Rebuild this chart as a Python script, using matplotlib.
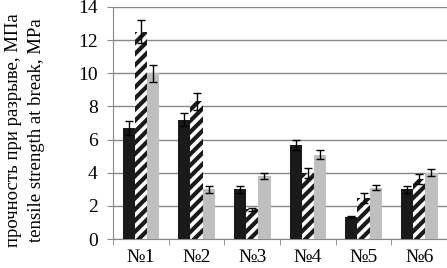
import matplotlib.pyplot as plt
import numpy as np

plt.rcParams['font.family'] = ['Liberation Serif', 'DejaVu Serif']
plt.rcParams['hatch.linewidth'] = 3.0

samples = ['№1', '№2', '№3', '№4', '№5', '№6']
black_vals = [6.7, 7.2, 3.0, 5.7, 1.35, 3.0]
black_err = [0.4, 0.4, 0.2, 0.3, 0.05, 0.2]
hatch_vals = [12.5, 8.3, 1.8, 4.0, 2.5, 3.6]
hatch_err = [0.7, 0.5, 0.1, 0.3, 0.3, 0.3]
grey_vals = [10.0, 3.0, 3.8, 5.1, 3.1, 4.0]
grey_err = [0.5, 0.2, 0.2, 0.3, 0.15, 0.2]

fig = plt.figure(figsize=(4.47, 2.68), dpi=100)
ax = fig.add_axes([0.253, 0.108, 0.747, 0.866])

x = np.arange(len(samples))
w = 0.22
ek = dict(ecolor='black', capsize=3, elinewidth=1, capthick=1)
ax.bar(x - w, black_vals, w, color='#1a1a1a', yerr=black_err, error_kw=ek, zorder=3)
ax.bar(x, hatch_vals, w, color='white', edgecolor='#1a1a1a', linewidth=0,
       hatch='///', yerr=hatch_err, error_kw=ek, zorder=3)
ax.bar(x + w, grey_vals, w, color='#bfbfbf', yerr=grey_err, error_kw=ek, zorder=3)

ax.set_xlim(-0.5, len(samples) - 0.5)
ax.set_ylim(0, 14)
ax.set_yticks(range(0, 15, 2))
ax.yaxis.grid(True, color='#888888', linewidth=1)
ax.set_axisbelow(True)
for s in ['top', 'right']:
    ax.spines[s].set_visible(False)
ax.spines['left'].set_color('#888888')
ax.spines['bottom'].set_color('#888888')
ax.tick_params(axis='y', length=4, color='#888888', labelsize=14, pad=7)
ax.set_xticks(x)
ax.set_xticklabels(samples, fontsize=14)
ax.tick_params(axis='x', length=0, pad=7)
ax.set_xticks(np.arange(-0.5, len(samples)), minor=True)
ax.tick_params(axis='x', which='minor', length=4, color='#888888')

ax.set_ylabel('прочность при разрыве, МПа\ntensile strength at break, MPa',
              fontsize=13.5, labelpad=24, linespacing=1.45)
ax.yaxis.label.set_y(0.47)

fig.savefig('out.png', dpi=100)
